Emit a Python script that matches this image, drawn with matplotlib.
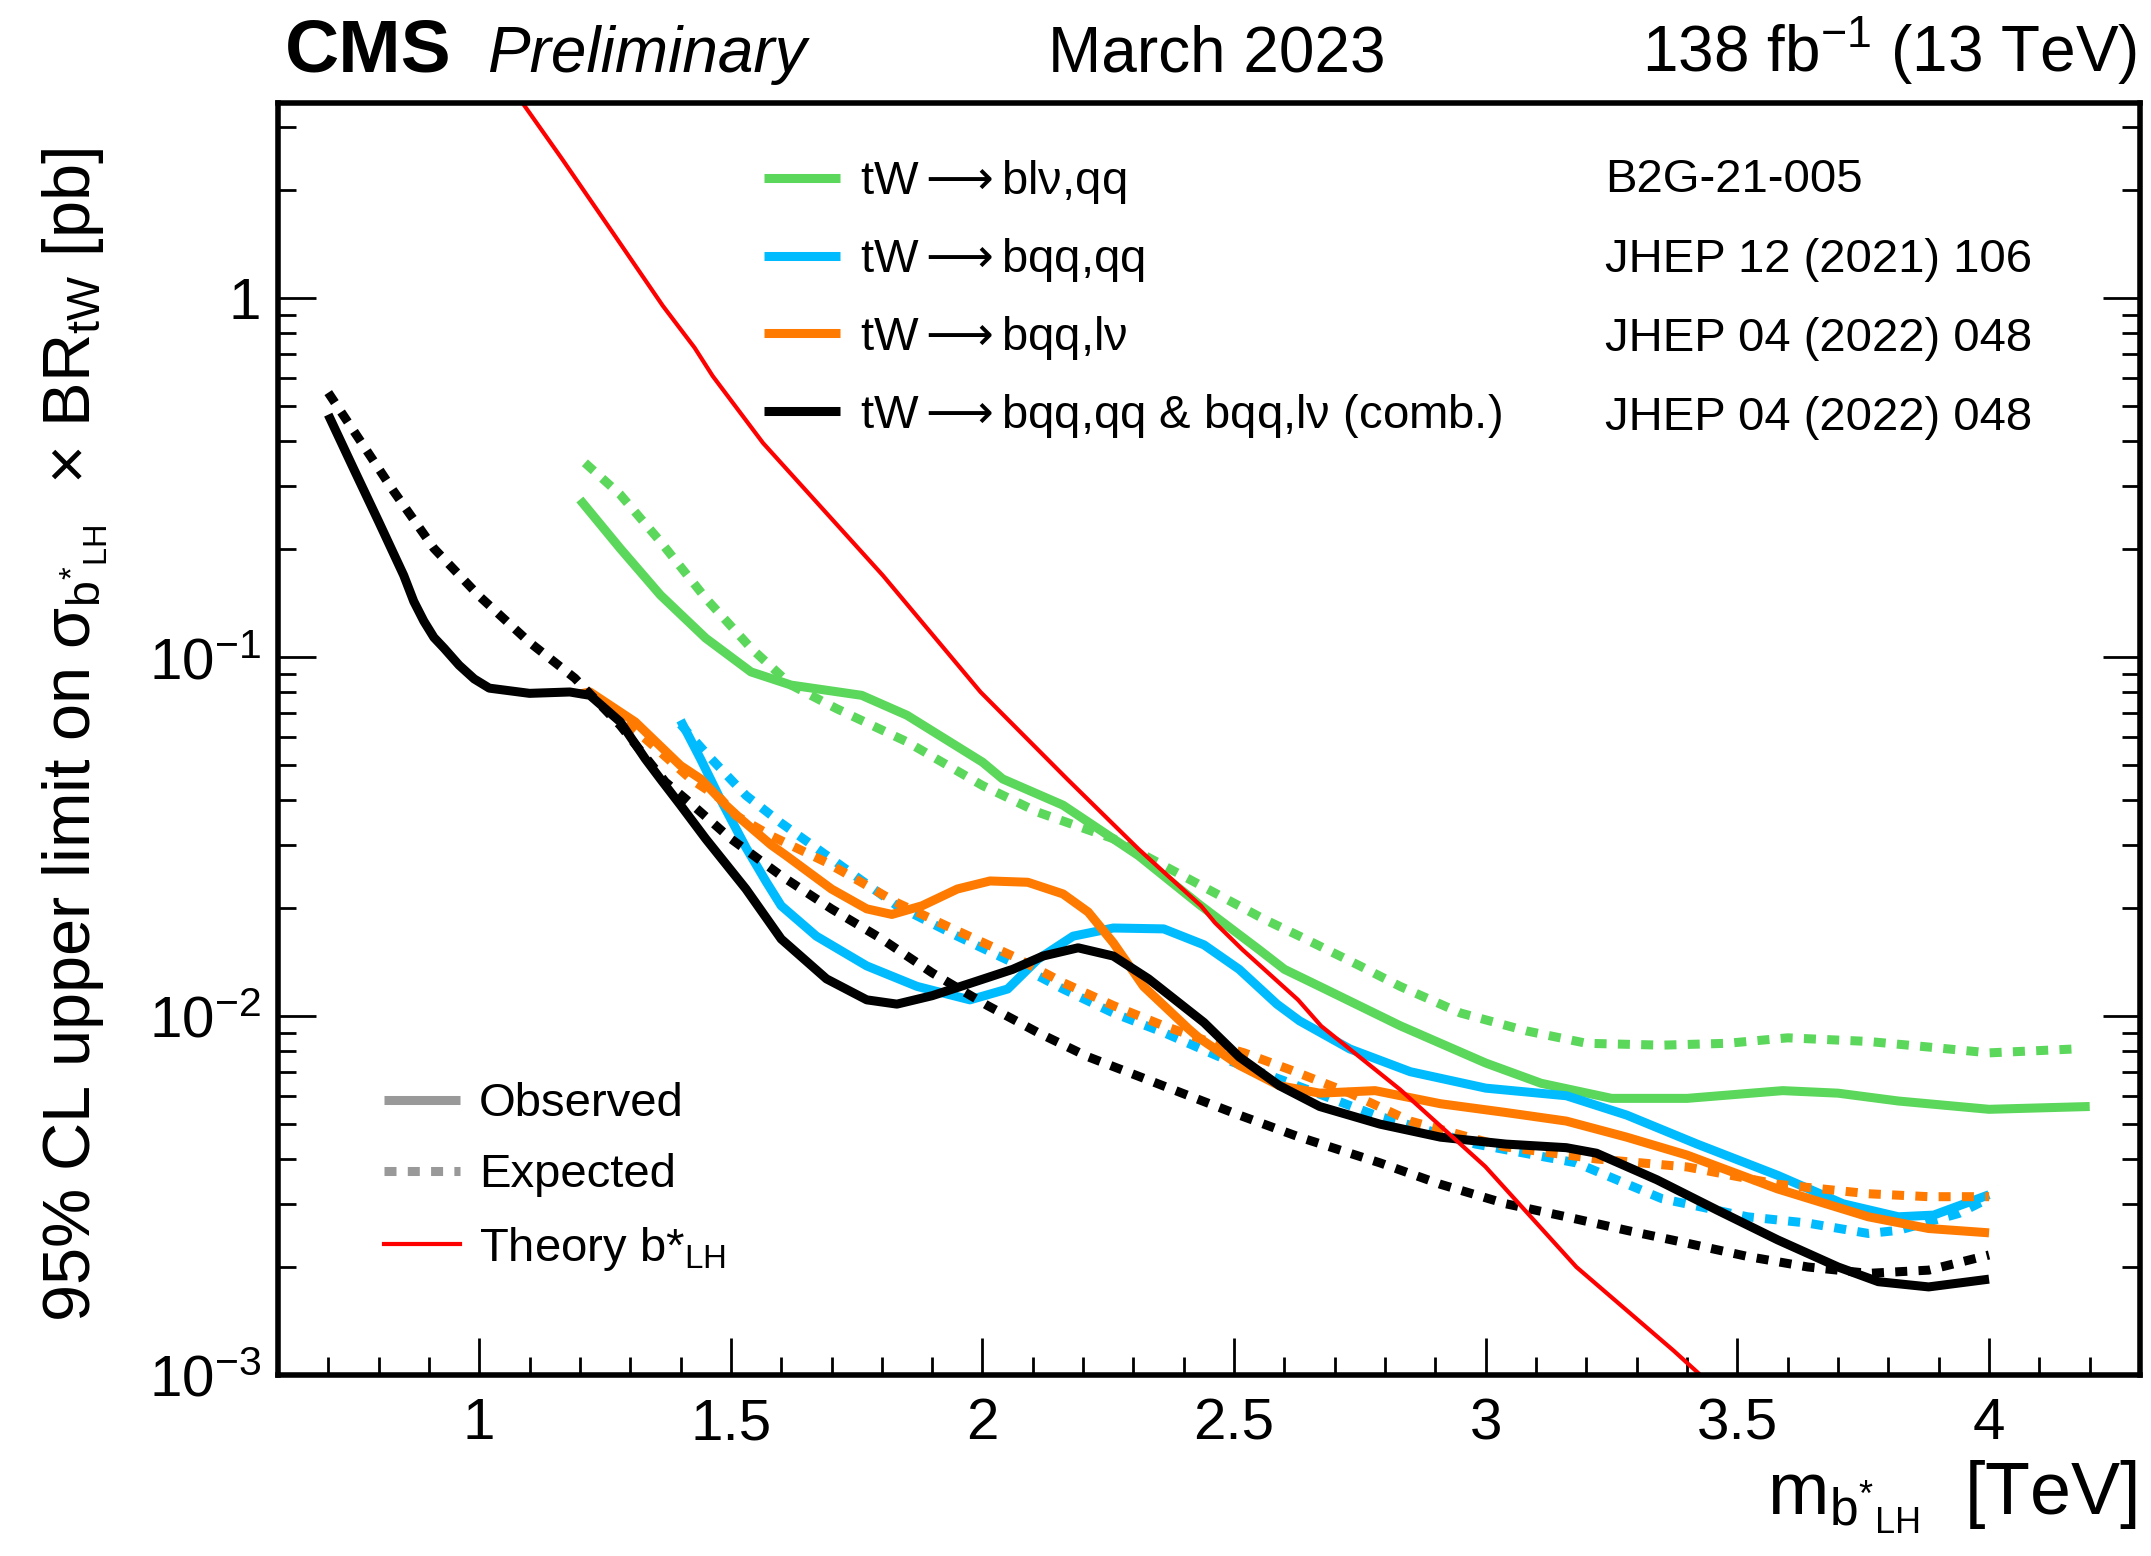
import matplotlib
matplotlib.use('Agg')
import matplotlib.pyplot as plt
from matplotlib.lines import Line2D
from matplotlib.ticker import FixedLocator, FuncFormatter, LogLocator, MultipleLocator, NullFormatter

plt.rcParams['font.family'] = ['Liberation Sans', 'DejaVu Sans']
plt.rcParams['mathtext.fontset'] = 'custom'
plt.rcParams['mathtext.rm'] = 'Liberation Sans'
plt.rcParams['mathtext.it'] = 'Liberation Sans:italic'
plt.rcParams['mathtext.bf'] = 'Liberation Sans:bold'
plt.rcParams['mathtext.sf'] = 'DejaVu Sans'

# ---------------- data ----------------
green_obs_x = [1.20, 1.28, 1.36, 1.45, 1.54, 1.62, 1.76, 1.85, 2.00, 2.04, 2.16, 2.31, 2.43, 2.55,
               2.60, 2.67, 2.83, 3.00, 3.11, 3.25, 3.40, 3.59, 3.70, 3.82, 4.00, 4.20]
green_obs_y = [0.275, 0.201, 0.149, 0.113, 0.091, 0.0836, 0.0783, 0.0689, 0.051, 0.0458, 0.0387,
               0.028, 0.0205, 0.0153, 0.0135, 0.0121, 0.0094, 0.0074, 0.0065, 0.0059, 0.0059,
               0.0062, 0.0061, 0.0058, 0.0055, 0.0056]
green_exp_x = [1.21, 1.28, 1.36, 1.45, 1.54, 1.62, 1.71, 1.85, 2.00, 2.11, 2.26, 2.41, 2.56, 2.63,
               2.75, 2.83, 2.95, 3.08, 3.20, 3.35, 3.48, 3.60, 3.76, 3.88, 4.00, 4.17]
green_exp_y = [0.348, 0.284, 0.210, 0.146, 0.106, 0.0836, 0.0719, 0.0581, 0.0439, 0.037, 0.0312,
               0.0241, 0.0186, 0.0167, 0.0138, 0.0121, 0.0102, 0.0091, 0.0084, 0.0083, 0.0084,
               0.0087, 0.0085, 0.0082, 0.0079, 0.0081]

blue_obs_x = [1.40, 1.44, 1.48, 1.53, 1.57, 1.60, 1.67, 1.77, 1.87, 1.975, 2.05, 2.11, 2.18, 2.26,
              2.36, 2.44, 2.51, 2.585, 2.63, 2.73, 2.85, 3.00, 3.16, 3.28, 3.42, 3.58, 3.71, 3.82,
              3.89, 4.00]
blue_obs_y = [0.0667, 0.052, 0.040, 0.0295, 0.0237, 0.0203, 0.0167, 0.0138, 0.0121, 0.0111, 0.0119,
              0.0144, 0.0167, 0.0176, 0.0175, 0.0158, 0.0135, 0.0108, 0.0097, 0.0081, 0.0070,
              0.0063, 0.0060, 0.0053, 0.0044, 0.0036, 0.0030, 0.00276, 0.00279, 0.00318]
blue_exp_x = [1.40, 1.455, 1.53, 1.60, 1.71, 1.83, 1.95, 2.06, 2.16, 2.26, 2.36, 2.48, 2.60, 2.78,
              2.98, 3.18, 3.35, 3.52, 3.64, 3.76, 3.82, 3.94, 4.00]
blue_exp_y = [0.065, 0.0532, 0.0412, 0.0345, 0.0268, 0.0203, 0.0167, 0.0141, 0.0119, 0.0102,
              0.0090, 0.0076, 0.0066, 0.0053, 0.0044, 0.0039, 0.0031, 0.00276, 0.00265, 0.00248,
              0.00253, 0.00282, 0.00311]

orange_obs_x = [1.20, 1.22, 1.31, 1.40, 1.44, 1.49, 1.52, 1.58, 1.61, 1.70, 1.77, 1.82, 1.88, 1.95,
                2.015, 2.09, 2.16, 2.21, 2.26, 2.32, 2.41, 2.43, 2.51, 2.59, 2.67, 2.78, 2.91,
                3.035, 3.16, 3.28, 3.40, 3.58, 3.76, 3.88, 4.00]
orange_obs_y = [0.079, 0.080, 0.066, 0.0499, 0.0458, 0.0387, 0.0354, 0.030, 0.028, 0.0226, 0.0199,
                0.0192, 0.0203, 0.0226, 0.0238, 0.0236, 0.0219, 0.0195, 0.016, 0.0121, 0.0092,
                0.0087, 0.0073, 0.0064, 0.0061, 0.0062, 0.0057, 0.0054, 0.0051, 0.0046, 0.0041,
                0.0033, 0.00276, 0.00256, 0.00249]
orange_exp_x = [1.22, 1.24, 1.33, 1.42, 1.48, 1.51, 1.58, 1.69, 1.83, 1.93, 2.06, 2.16, 2.26, 2.36,
                2.48, 2.52, 2.61, 2.73, 2.85, 3.035, 3.22, 3.40, 3.58, 3.76, 3.88, 4.00]
orange_exp_y = [0.079, 0.075, 0.0593, 0.0458, 0.0403, 0.0362, 0.0318, 0.0268, 0.0207, 0.0178,
                0.0147, 0.0124, 0.0107, 0.0094, 0.0082, 0.0079, 0.0071, 0.0061, 0.0051, 0.00433,
                0.0040, 0.0038, 0.0034, 0.0032, 0.00314, 0.00314]

black_obs_x = [0.70, 0.75, 0.80, 0.85, 0.87, 0.89, 0.91, 0.93, 0.96, 0.99, 1.02, 1.10, 1.18, 1.22,
               1.28, 1.33, 1.36, 1.40, 1.45, 1.53, 1.60, 1.69, 1.77, 1.83, 1.90, 1.98, 2.06, 2.12,
               2.19, 2.26, 2.33, 2.44, 2.51, 2.59, 2.67, 2.79, 2.91, 3.04, 3.16, 3.22, 3.34, 3.46,
               3.58, 3.70, 3.78, 3.88, 4.00]
black_obs_y = [0.474, 0.336, 0.239, 0.169, 0.143, 0.126, 0.1135, 0.106, 0.095, 0.087, 0.082, 0.0793,
               0.080, 0.0783, 0.0661, 0.0521, 0.0458, 0.0387, 0.0312, 0.0226, 0.0164, 0.0127,
               0.0111, 0.0108, 0.0114, 0.0124, 0.0135, 0.0147, 0.0155, 0.0147, 0.0127, 0.0096,
               0.0077, 0.0064, 0.0056, 0.0050, 0.0046, 0.0044, 0.0043, 0.00415, 0.0035, 0.00288,
               0.00238, 0.0020, 0.00182, 0.00176, 0.00185]
black_exp_x = [0.70, 0.76, 0.83, 0.91, 1.00, 1.10, 1.19, 1.28, 1.37, 1.41, 1.50, 1.60, 1.70, 1.80,
               1.90, 2.01, 2.11, 2.21, 2.31, 2.41, 2.51, 2.63, 2.79, 2.91, 3.04, 3.16, 3.28, 3.40,
               3.52, 3.64, 3.76, 3.88, 4.00]
black_exp_y = [0.546, 0.408, 0.290, 0.201, 0.148, 0.110, 0.0874, 0.0646, 0.0449, 0.0403, 0.0312,
               0.0246, 0.0199, 0.0164, 0.0132, 0.0107, 0.0090, 0.0077, 0.0068, 0.0060, 0.0053,
               0.0046, 0.0039, 0.0034, 0.0030, 0.00276, 0.00253, 0.00233, 0.00214, 0.0020,
               0.00192, 0.00196, 0.00216]

theory_x = [1.083, 1.165, 1.265, 1.365, 1.428, 1.464, 1.564, 1.657, 1.802, 1.996, 2.168, 2.310,
            2.434, 2.462, 2.516, 2.627, 2.673, 2.830, 2.999, 3.180, 3.373, 3.43]
theory_y = [3.55, 2.44, 1.526, 0.952, 0.728, 0.607, 0.395, 0.2835, 0.169, 0.080, 0.0458, 0.0292,
            0.0203, 0.0182, 0.01534, 0.0111, 0.00938, 0.00624, 0.00381, 0.0020, 0.00117, 0.00099]

ARROW = r'$\mathsf{\longrightarrow}$'
channel_labels = ['tW' + ARROW + 'blν,qq', 'tW' + ARROW + 'bqq,qq', 'tW' + ARROW + 'bqq,lν',
                  'tW' + ARROW + 'bqq,qq & bqq,lν (comb.)']
references = ['B2G-21-005', 'JHEP 12 (2021) 106', 'JHEP 04 (2022) 048', 'JHEP 04 (2022) 048']
y_tick_values = [1e-3, 1e-2, 1e-1, 1.0]
y_tick_labels = [r'$10^{-3}$', r'$10^{-2}$', r'$10^{-1}$', '1']
x_tick_values = [1.0, 1.5, 2.0, 2.5, 3.0, 3.5, 4.0]
x_tick_labels = ['1', '1.5', '2', '2.5', '3', '3.5', '4']

# ---------------- style ----------------
GREEN = '#5bd75b'
BLUE = '#00bcff'
ORANGE = '#ff7a00'
BLACK = '#000000'
RED = '#ff0000'
GRAY = '#999999'
LW = 6.5
DOT = (0, (1.33, 1.25))

fig = plt.figure(figsize=(21.51, 15.56), dpi=100)
ax = fig.add_axes([0.1292, 0.1163, 0.8657, 0.8175])

series = [
    (green_exp_x, green_exp_y, GREEN, DOT),
    (green_obs_x, green_obs_y, GREEN, '-'),
    (blue_exp_x, blue_exp_y, BLUE, DOT),
    (blue_obs_x, blue_obs_y, BLUE, '-'),
    (orange_exp_x, orange_exp_y, ORANGE, DOT),
    (orange_obs_x, orange_obs_y, ORANGE, '-'),
    (black_exp_x, black_exp_y, BLACK, DOT),
    (black_obs_x, black_obs_y, BLACK, '-'),
]
for xs, ys, c, ls in series:
    ax.plot(xs, ys, color=c, lw=LW, ls=ls, dash_capstyle='butt', solid_capstyle='butt',
            solid_joinstyle='round')
ax.plot(theory_x, theory_y, color=RED, lw=3.0, solid_capstyle='butt')

ax.set_yscale('log')
ax.set_xlim(0.6, 4.3)
ax.set_ylim(1e-3, 3.5)

ax.xaxis.set_major_locator(FixedLocator(x_tick_values))
ax.xaxis.set_major_formatter(FuncFormatter(
    lambda v, p: x_tick_labels[x_tick_values.index(round(v, 1))] if round(v, 1) in x_tick_values else ''))
ax.xaxis.set_minor_locator(MultipleLocator(0.1))
ax.yaxis.set_major_locator(FixedLocator(y_tick_values))
ax.yaxis.set_major_formatter(FuncFormatter(lambda v, p: dict(zip(y_tick_values, y_tick_labels)).get(v, '')))
ax.yaxis.set_minor_locator(LogLocator(base=10, subs=[2, 3, 4, 5, 6, 7, 8, 9], numticks=20))
ax.yaxis.set_minor_formatter(NullFormatter())

ax.tick_params(axis='both', which='major', direction='in', length=27, width=2, labelsize=42)
ax.tick_params(axis='both', which='minor', direction='in', length=13, width=2)
ax.tick_params(axis='x', which='both', top=False, bottom=True, pad=16)
ax.tick_params(axis='y', which='both', left=True, right=True, pad=12)
for sp in ax.spines.values():
    sp.set_linewidth(4)

# legends
h1 = [Line2D([], [], color=c, lw=LW, solid_capstyle='butt') for c in (GREEN, BLUE, ORANGE, BLACK)]
leg1 = ax.legend(h1, channel_labels, loc='upper left', bbox_to_anchor=(0.261, 0.9565),
                 frameon=False, fontsize=34, handlelength=1.61, handletextpad=0.42,
                 labelspacing=0.63, borderpad=0, borderaxespad=0)
ax.add_artist(leg1)
h2 = [Line2D([], [], color='none') for _ in references]
leg2 = ax.legend(h2, references, loc='upper left', bbox_to_anchor=(0.7127, 0.9565),
                 frameon=False, fontsize=34, handlelength=0, handletextpad=0,
                 labelspacing=0.745, borderpad=0, borderaxespad=0)
ax.add_artist(leg2)
h3 = [Line2D([], [], color=GRAY, lw=LW, solid_capstyle='butt'),
      Line2D([], [], color=GRAY, lw=LW, ls=DOT, dash_capstyle='butt'),
      Line2D([], [], color=RED, lw=3.0)]
leg3 = ax.legend(h3, ['Observed', 'Expected', r'Theory b*$_{\mathrm{LH}}$'], loc='upper left',
                 bbox_to_anchor=(0.057, 0.2303), frameon=False, fontsize=34,
                 handlelength=1.61, handletextpad=0.4, labelspacing=0.58, borderpad=0,
                 borderaxespad=0)

# header
yb = 1 - 72 / 1556
fig.text(285 / 2151, yb, 'CMS', fontsize=54, fontweight='bold', va='baseline', ha='left')
fig.text(487 / 2151, yb, 'Preliminary', fontsize=46, style='italic', va='baseline', ha='left')
fig.text(1217 / 2151, yb, 'March 2023', fontsize=46, va='baseline', ha='center')
fig.text(2137 / 2151, yb, r'138 fb$^{-1}$ (13 TeV)', fontsize=46, va='baseline', ha='right')

# axis titles
fig.text(2137 / 2151, 1 - 1514 / 1556, r'm$_{\mathrm{b}^{*}{}_{\mathrm{LH}}}$  [TeV]',
         fontsize=53, ha='right', va='baseline')
fig.text(0.035, 0.905,
         r'95% CL upper limit on σ$_{\mathrm{b}^{*}{}_{\mathrm{LH}}}$  × BR$_{\mathrm{tW}}$ [pb]',
         fontsize=48, rotation=90, ha='center', va='top')

fig.savefig('out.png', dpi=100)
